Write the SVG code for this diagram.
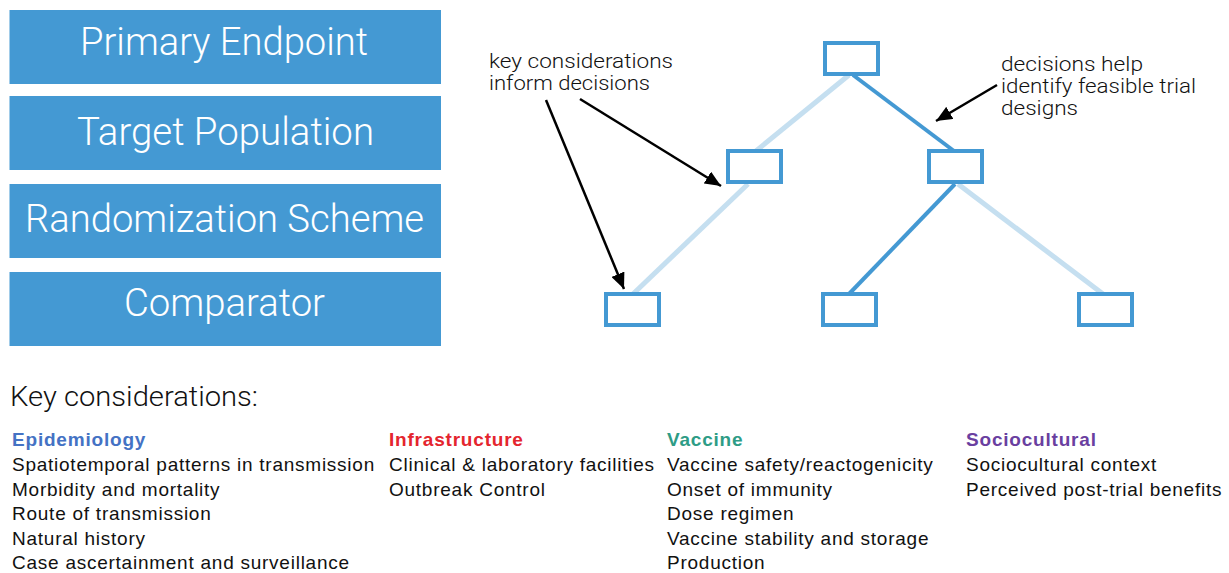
<svg xmlns="http://www.w3.org/2000/svg" width="1229" height="573" viewBox="0 0 1229 573">
  <style>
    .box { fill: #4499d3; }
    .boxtxt { fill: #ffffff; font-family: Roboto, "Liberation Sans", sans-serif; font-weight: 300; font-size: 38px; text-anchor: middle; }
    .node { fill: #ffffff; stroke: #4499d3; stroke-width: 4; }
    .edge-on { stroke: #4499d3; stroke-width: 4; fill: none; }
    .edge-off { stroke: #c5dff0; stroke-width: 5; fill: none; }
    .arrow { stroke: #000000; stroke-width: 2.5; fill: none; marker-end: url(#ah); }
    .note { fill: #111111; font-family: Roboto, "Liberation Sans", sans-serif; font-weight: 300; font-size: 21px; }
    .title { fill: #111111; font-family: Roboto, "Liberation Sans", sans-serif; font-weight: 300; font-size: 27px; }
    .head { font-family: "Liberation Sans", Arial, sans-serif; font-weight: bold; font-size: 19px; letter-spacing: 0.8px; }
    .item { fill: #111111; font-family: "Liberation Sans", Arial, sans-serif; font-size: 19px; letter-spacing: 0.75px; }
  </style>
  <defs>
    <marker id="ah" markerUnits="userSpaceOnUse" markerWidth="18" markerHeight="14" refX="16" refY="7" orient="auto">
      <path d="M0,0 L16,7 L0,14 Z" fill="#000000"/>
    </marker>
  </defs>

  <g id="box-primary-endpoint">
    <rect class="box" x="9.5" y="10" width="431.5" height="74"/>
    <text class="boxtxt" x="224" y="55" textLength="288" lengthAdjust="spacingAndGlyphs">Primary Endpoint</text>
  </g>
  <g id="box-target-population">
    <rect class="box" x="9.5" y="96" width="431.5" height="74"/>
    <text class="boxtxt" x="225.5" y="145" textLength="297" lengthAdjust="spacingAndGlyphs">Target Population</text>
  </g>
  <g id="box-randomization-scheme">
    <rect class="box" x="9.5" y="184" width="431.5" height="74"/>
    <text class="boxtxt" x="224.5" y="232" textLength="399" lengthAdjust="spacingAndGlyphs">Randomization Scheme</text>
  </g>
  <g id="box-comparator">
    <rect class="box" x="9.5" y="272" width="431.5" height="74"/>
    <text class="boxtxt" x="224.5" y="316" textLength="201" lengthAdjust="spacingAndGlyphs">Comparator</text>
  </g>

  <g id="connectors">
    <line class="edge-off" x1="849" y1="75" x2="756" y2="151"/>
    <line class="edge-on" x1="853" y1="75" x2="954" y2="151"/>
    <line class="edge-off" x1="748" y1="184" x2="633" y2="294"/>
    <line class="edge-on" x1="955" y1="184" x2="849" y2="294"/>
    <line class="edge-off" x1="958" y1="184" x2="1103" y2="294"/>
    <line class="arrow" x1="546" y1="100" x2="624" y2="289"/>
    <line class="arrow" x1="580" y1="99" x2="721" y2="186"/>
    <line class="arrow" x1="997" y1="85" x2="936" y2="121"/>
  </g>

  <g id="node-top"><rect class="node" x="825" y="43" width="53" height="31"/></g>
  <g id="node-mid-left"><rect class="node" x="728" y="151" width="53" height="31"/></g>
  <g id="node-mid-right"><rect class="node" x="929" y="151" width="53" height="31"/></g>
  <g id="node-bottom-left"><rect class="node" x="606" y="294" width="53" height="31"/></g>
  <g id="node-bottom-mid"><rect class="node" x="823" y="294" width="53" height="31"/></g>
  <g id="node-bottom-right"><rect class="node" x="1079" y="294" width="53" height="31"/></g>

  <g id="note-left">
    <text class="note" x="489" y="68" textLength="184" lengthAdjust="spacingAndGlyphs">key considerations</text>
    <text class="note" x="489" y="90" textLength="161" lengthAdjust="spacingAndGlyphs">inform decisions</text>
  </g>
  <g id="note-right">
    <text class="note" x="1001" y="71" textLength="142" lengthAdjust="spacingAndGlyphs">decisions help</text>
    <text class="note" x="1001" y="93" textLength="195" lengthAdjust="spacingAndGlyphs">identify feasible trial</text>
    <text class="note" x="1001" y="115" textLength="77" lengthAdjust="spacingAndGlyphs">designs</text>
  </g>

  <g id="key-considerations">
    <text class="title" x="10" y="406" textLength="248" lengthAdjust="spacingAndGlyphs">Key considerations:</text>
    <g id="col-epidemiology">
      <text class="head" x="12" y="446" fill="#4472c4">Epidemiology</text>
      <text class="item" x="12" y="471">Spatiotemporal patterns in transmission</text>
      <text class="item" x="12" y="495.5">Morbidity and mortality</text>
      <text class="item" x="12" y="520">Route of transmission</text>
      <text class="item" x="12" y="544.5">Natural history</text>
      <text class="item" x="12" y="569">Case ascertainment and surveillance</text>
    </g>
    <g id="col-infrastructure">
      <text class="head" x="389" y="446" fill="#e4252e">Infrastructure</text>
      <text class="item" x="389" y="471">Clinical &amp; laboratory facilities</text>
      <text class="item" x="389" y="495.5">Outbreak Control</text>
    </g>
    <g id="col-vaccine">
      <text class="head" x="667" y="446" fill="#2e9c86">Vaccine</text>
      <text class="item" x="667" y="471">Vaccine safety/reactogenicity</text>
      <text class="item" x="667" y="495.5">Onset of immunity</text>
      <text class="item" x="667" y="520">Dose regimen</text>
      <text class="item" x="667" y="544.5">Vaccine stability and storage</text>
      <text class="item" x="667" y="569">Production</text>
    </g>
    <g id="col-sociocultural">
      <text class="head" x="966" y="446" fill="#6a3fa0">Sociocultural</text>
      <text class="item" x="966" y="471">Sociocultural context</text>
      <text class="item" x="966" y="495.5">Perceived post-trial benefits</text>
    </g>
  </g>
</svg>
